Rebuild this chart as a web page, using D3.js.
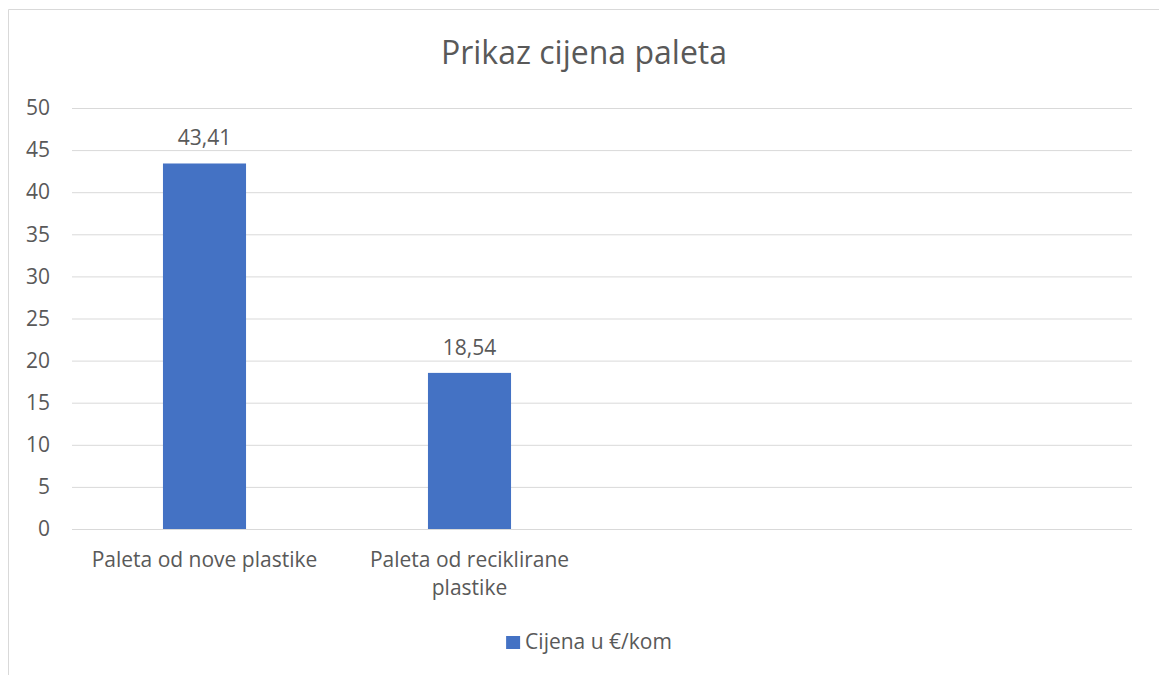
<!DOCTYPE html>
<html>
<head>
<meta charset="utf-8">
<script src="https://cdn.jsdelivr.net/npm/d3@7"></script>
<style>
  body { margin: 0; background: #fff; }
  text { font-family: "Open Sans", "Noto Sans", sans-serif; fill: #595959; }
</style>
</head>
<body>
<div id="chart"></div>
<script>
// chart data
var categories = ["Paleta od nove plastike", "Paleta od reciklirane plastike", "", ""];
var values = [43.41, 18.54, null, null];
var valueLabels = ["43,41", "18,54", "", ""];
var yTicks = [0, 5, 10, 15, 20, 25, 30, 35, 40, 45, 50];
var seriesName = "Cijena u €/kom";
var chartTitle = "Prikaz cijena paleta";

var svgWidth = 1159;
var svgHeight = 675;

var margin = { top: 108, right: 27, bottom: 146, left: 72 };
var width = svgWidth - margin.left - margin.right;
var height = svgHeight - margin.top - margin.bottom;

var svg = d3.select("#chart")
  .append("svg")
  .attr("width", svgWidth)
  .attr("height", svgHeight);

// chart frame (only top and left edges show in the picture)
svg.append("path")
  .attr("d", "M8.5,675 V9.5 H1159")
  .attr("fill", "none")
  .attr("stroke", "#d9d9d9")
  .attr("stroke-width", 1);

var chartGroup = svg.append("g")
  .attr("transform", `translate(${margin.left}, ${margin.top})`);

var xBand = d3.scaleBand()
  .domain(d3.range(categories.length))
  .range([0, width]);

var yLinearScale = d3.scaleLinear()
  .domain([0, 50])
  .range([height, 0]);

// gridlines
var leftAxis = d3.axisLeft(yLinearScale)
  .tickValues(yTicks)
  .tickSize(-width)
  .tickPadding(22)
  .tickFormat(d3.format("d"));

var yAxis = chartGroup.append("g").call(leftAxis);
yAxis.select(".domain").remove();
yAxis.selectAll("line").attr("stroke", "#d9d9d9").attr("stroke-width", 1);
yAxis.selectAll("text")
  .style("font-size", "21px")
  .attr("fill", "#595959");

// bars, Excel gap width ~219%
var barWidth = xBand.bandwidth() / 3.19;

chartGroup.selectAll(".bar")
  .data(values.map((v, i) => ({ i: i, v: v })).filter(d => d.v !== null))
  .enter()
  .append("rect")
  .attr("class", "bar")
  .attr("x", d => xBand(d.i) + (xBand.bandwidth() - barWidth) / 2)
  .attr("y", d => yLinearScale(d.v))
  .attr("width", barWidth)
  .attr("height", d => height - yLinearScale(d.v))
  .attr("fill", "#4472c4");

// value labels
chartGroup.selectAll(".vlabel")
  .data(values.map((v, i) => ({ i: i, v: v })).filter(d => d.v !== null))
  .enter()
  .append("text")
  .attr("class", "vlabel")
  .attr("x", d => xBand(d.i) + xBand.bandwidth() / 2)
  .attr("y", d => yLinearScale(d.v) - 18)
  .attr("text-anchor", "middle")
  .style("font-size", "21px")
  .text(d => valueLabels[d.i]);

// category labels, wrapped to fit the band
function wrapWords(str, maxW, fontSize) {
  var words = str.split(" ");
  var lines = [];
  var line = "";
  var tmp = svg.append("text").style("font-size", fontSize + "px");
  words.forEach(function(w) {
    var test = line ? line + " " + w : w;
    tmp.text(test);
    if (tmp.node().getComputedTextLength() > maxW && line) {
      lines.push(line);
      line = w;
    } else {
      line = test;
    }
  });
  if (line) lines.push(line);
  tmp.remove();
  return lines;
}

categories.forEach(function(c, i) {
  if (!c) return;
  var lines = wrapWords(c, xBand.bandwidth() - 10, 21);
  var t = chartGroup.append("text")
    .attr("x", xBand(i) + xBand.bandwidth() / 2)
    .attr("y", height + 38)
    .attr("text-anchor", "middle")
    .style("font-size", "21px");
  lines.forEach(function(l, k) {
    t.append("tspan")
      .attr("x", xBand(i) + xBand.bandwidth() / 2)
      .attr("dy", k === 0 ? 0 : 28)
      .text(l);
  });
});

// title
svg.append("text")
  .attr("x", margin.left + width / 2 - 18)
  .attr("y", 64)
  .attr("text-anchor", "middle")
  .style("font-size", "32px")
  .text(chartTitle);

// legend
var legend = svg.append("g")
  .attr("transform", `translate(${margin.left + width / 2 - 13}, 642)`);

var legendText = legend.append("text")
  .attr("x", 0)
  .attr("y", 7)
  .style("font-size", "21px")
  .text(seriesName);

var lw = legendText.node().getComputedTextLength();
var total = 14 + 5 + lw;
legendText.attr("x", -total / 2 + 19);
legend.append("rect")
  .attr("x", -total / 2)
  .attr("y", -6)
  .attr("width", 14)
  .attr("height", 13)
  .attr("fill", "#4472c4");
</script>
</body>
</html>
